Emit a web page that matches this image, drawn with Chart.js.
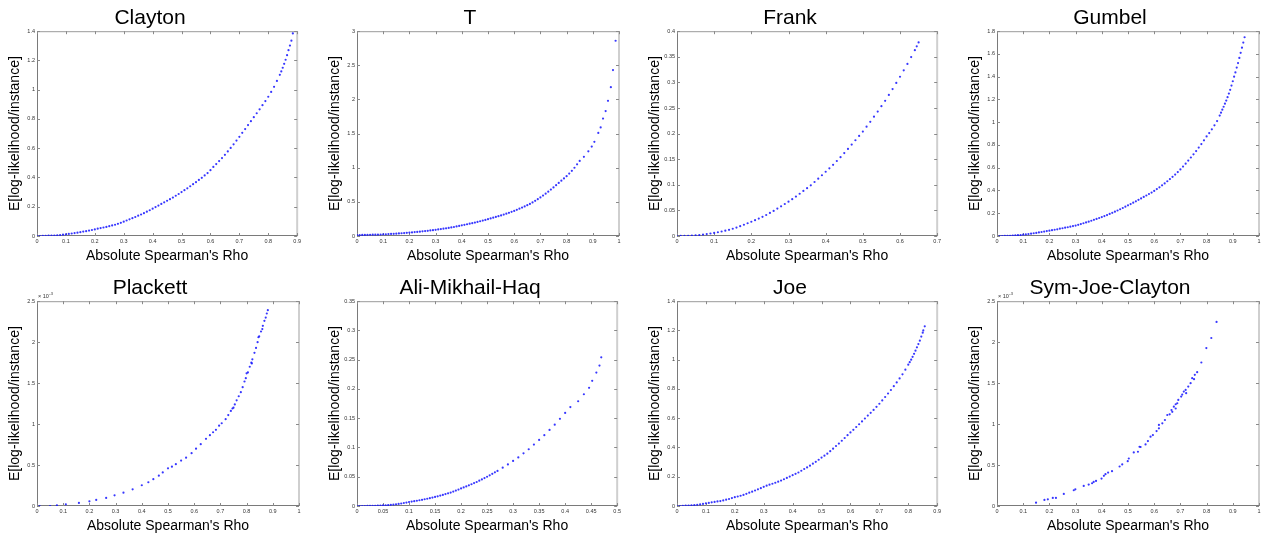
<!DOCTYPE html>
<html>
<head>
<meta charset="UTF-8"/>
<title>Copula fits</title>
<script src="https://cdn.jsdelivr.net/npm/chart.js@4.4.3/dist/chart.umd.min.js"></script>
<style>
  *{box-sizing:border-box;margin:0;padding:0}
  body{background:#fff;width:1263px;height:537px;overflow:hidden;position:relative}
  .panel{position:absolute;width:303px;height:267px}
</style>
</head>
<body>

<script>
// ─── Data ─────────────────────────────────────────────────────────────────────
const claytonX = [0.00,0.01,0.02,0.03,0.04,0.05,0.06,0.07,0.08,0.09,0.10,0.11,0.12,0.13,0.14,0.15,0.16,0.17,0.18,0.19,
  0.20,0.21,0.22,0.23,0.24,0.25,0.26,0.27,0.28,0.29,0.30,0.31,0.32,0.33,0.34,0.35,0.36,0.37,0.38,0.39,
  0.40,0.41,0.42,0.43,0.44,0.45,0.46,0.47,0.48,0.49,0.50,0.51,0.52,0.53,0.54,0.55,0.56,0.57,0.58,0.59,
  0.60,0.61,0.62,0.63,0.64,0.65,0.66,0.67,0.68,0.69,0.70,0.71,0.72,0.73,0.74,0.75,0.76,0.77,0.78,0.79,
  0.80,0.81,0.82,0.83,0.84,0.845,0.85,0.855,0.86,0.865,0.87,0.875,0.88,0.885];
const claytonY = [0.000,0.000,0.001,0.001,0.002,0.002,0.003,0.005,0.007,0.009,0.011,0.014,0.017,0.020,0.023,0.026,0.030,0.033,0.037,0.041,
  0.045,0.050,0.054,0.058,0.062,0.067,0.072,0.077,0.083,0.090,0.098,0.106,0.114,0.122,0.130,0.139,0.147,0.156,0.166,0.176,
  0.187,0.198,0.208,0.219,0.230,0.241,0.252,0.263,0.275,0.287,0.300,0.313,0.326,0.340,0.354,0.368,0.383,0.398,0.414,0.430,
  0.450,0.472,0.492,0.512,0.533,0.555,0.578,0.602,0.627,0.652,0.678,0.705,0.731,0.758,0.785,0.812,0.839,0.866,0.894,0.922,
  0.952,0.985,1.020,1.060,1.102,1.125,1.150,1.177,1.205,1.236,1.270,1.302,1.335,1.385];

const tX = [0.00,0.01,0.02,0.03,0.04,0.05,0.06,0.07,0.08,0.09,0.10,0.11,0.12,0.13,0.14,0.15,0.16,0.17,0.18,0.19,
  0.20,0.21,0.22,0.23,0.24,0.25,0.26,0.27,0.28,0.29,0.30,0.31,0.32,0.33,0.34,0.35,0.36,0.37,0.38,0.39,
  0.40,0.41,0.42,0.43,0.44,0.45,0.46,0.47,0.48,0.49,0.50,0.51,0.52,0.53,0.54,0.55,0.56,0.57,0.58,0.59,
  0.60,0.61,0.62,0.63,0.64,0.65,0.66,0.67,0.68,0.69,0.70,0.71,0.72,0.73,0.74,0.75,0.76,0.77,0.78,0.79,
  0.80,0.81,0.82,0.83,0.84,0.85,0.866,0.883,0.896,0.906,0.921,0.930,0.939,0.949,0.958,0.969,0.977,0.987];
const tY = [0.015,0.015,0.016,0.016,0.017,0.018,0.019,0.020,0.021,0.022,0.024,0.026,0.028,0.030,0.032,0.034,0.037,0.040,0.043,0.046,
  0.050,0.053,0.057,0.060,0.064,0.068,0.072,0.076,0.081,0.086,0.091,0.096,0.101,0.107,0.113,0.119,0.125,0.132,0.140,0.148,
  0.156,0.164,0.172,0.180,0.188,0.197,0.206,0.216,0.226,0.236,0.247,0.257,0.268,0.279,0.290,0.302,0.314,0.327,0.340,0.354,
  0.368,0.384,0.400,0.416,0.433,0.451,0.470,0.492,0.515,0.540,0.565,0.592,0.620,0.650,0.680,0.712,0.745,0.777,0.810,0.843,
  0.877,0.915,0.955,1.000,1.050,1.100,1.160,1.240,1.310,1.380,1.510,1.590,1.720,1.830,1.980,2.180,2.430,2.860];

const frankX = [0.00,0.01,0.02,0.03,0.04,0.05,0.06,0.07,0.08,0.09,0.10,0.11,0.12,0.13,0.14,0.15,0.16,0.17,0.18,0.19,
  0.20,0.21,0.22,0.23,0.24,0.25,0.26,0.27,0.28,0.29,0.30,0.31,0.32,0.33,0.34,0.35,0.36,0.37,0.38,0.39,
  0.40,0.41,0.42,0.43,0.44,0.45,0.46,0.47,0.48,0.49,0.50,0.51,0.52,0.53,0.54,0.55,0.56,0.57,0.58,0.59,
  0.60,0.61,0.62,0.63,0.64,0.645,0.65];
const frankY = [0.0000,0.0001,0.0002,0.0005,0.0009,0.0014,0.0020,0.0028,0.0038,0.0049,0.0060,0.0073,0.0088,0.0104,0.0120,0.0142,0.0165,0.0192,0.0220,0.0249,
  0.0278,0.0309,0.0340,0.0375,0.0410,0.0450,0.0490,0.0535,0.0580,0.0625,0.0670,0.0720,0.0770,0.0825,0.0880,0.0935,0.0990,0.1055,0.1120,0.1187,
  0.1255,0.1322,0.1390,0.1465,0.1540,0.1620,0.1700,0.1785,0.1870,0.1955,0.2040,0.2135,0.2230,0.2330,0.2430,0.2535,0.2640,0.2755,0.2870,0.2990,
  0.3110,0.3235,0.3360,0.3495,0.3630,0.3705,0.3780];

const gumbelX = [0.01,0.02,0.03,0.04,0.05,0.06,0.07,0.08,0.09,0.10,0.11,0.12,0.13,0.14,0.15,0.16,0.17,0.18,0.19,
  0.20,0.21,0.22,0.23,0.24,0.25,0.26,0.27,0.28,0.29,0.30,0.31,0.32,0.33,0.34,0.35,0.36,0.37,0.38,0.39,
  0.40,0.41,0.42,0.43,0.44,0.45,0.46,0.47,0.48,0.49,0.50,0.51,0.52,0.53,0.54,0.55,0.56,0.57,0.58,0.59,
  0.60,0.61,0.62,0.63,0.64,0.65,0.66,0.67,0.68,0.69,0.70,0.71,0.72,0.73,0.74,0.75,0.76,0.77,0.78,0.79,
  0.80,0.81,0.82,0.83,0.84,0.85,0.855,0.86,0.865,0.87,0.875,0.88,0.885,0.89,0.895,0.90,0.905,0.91,0.915,0.92,0.925,0.93,0.935,0.94,0.945];
const gumbelY = [0.000,0.000,0.001,0.001,0.002,0.003,0.005,0.007,0.009,0.012,0.014,0.017,0.020,0.024,0.027,0.031,0.035,0.039,0.043,
  0.047,0.051,0.055,0.059,0.064,0.068,0.073,0.077,0.082,0.087,0.092,0.098,0.105,0.112,0.119,0.126,0.134,0.142,0.150,0.158,
  0.166,0.175,0.184,0.194,0.204,0.214,0.224,0.235,0.246,0.258,0.270,0.281,0.293,0.305,0.318,0.330,0.343,0.356,0.369,0.382,
  0.396,0.412,0.428,0.445,0.462,0.481,0.500,0.520,0.540,0.562,0.585,0.610,0.636,0.663,0.690,0.718,0.746,0.777,0.808,0.841,
  0.875,0.905,0.938,0.973,1.010,1.058,1.084,1.110,1.136,1.163,1.190,1.220,1.252,1.285,1.322,1.360,1.400,1.438,1.480,1.520,1.565,1.610,1.655,1.700,1.747];

// Plackett and Sym-Joe-Clayton: values in units of 10^-3
const plackettX = [0.01,0.05,0.076,0.11,0.16,0.20,0.226,0.264,0.296,0.33,0.365,0.40,0.425,0.444,0.465,0.48,0.50,0.515,0.53,0.55,
  0.569,0.59,0.607,0.625,0.645,0.66,0.672,0.683,0.695,0.705,0.72,0.73,0.74,0.746,0.75,0.755,0.762,0.77,0.778,0.785,
  0.792,0.797,0.80,0.805,0.812,0.818,0.82,0.822,0.83,0.836,0.842,0.845,0.848,0.855,0.86,0.862,0.868,0.873,0.877,0.881];
const plackettY = [0.000,0.000,0.008,0.020,0.037,0.057,0.074,0.098,0.130,0.163,0.204,0.253,0.290,0.327,0.370,0.410,0.460,0.480,0.510,0.555,
  0.590,0.645,0.700,0.755,0.820,0.865,0.900,0.930,0.980,1.010,1.060,1.110,1.160,1.190,1.200,1.240,1.290,1.340,1.390,1.450,
  1.520,1.560,1.620,1.630,1.700,1.750,1.740,1.790,1.870,1.930,2.000,2.060,2.070,2.130,2.160,2.200,2.260,2.300,2.350,2.390];

const amhX = [0.000,0.005,0.010,0.015,0.020,0.025,0.030,0.035,0.040,0.045,0.050,0.055,0.060,0.065,0.070,0.075,0.080,0.085,0.090,0.095,
  0.100,0.105,0.110,0.115,0.120,0.125,0.130,0.135,0.140,0.145,0.150,0.155,0.160,0.165,0.170,0.175,0.180,0.185,0.190,0.195,
  0.200,0.205,0.210,0.215,0.220,0.225,0.230,0.235,0.240,0.245,0.250,0.255,0.260,0.265,0.270,
  0.28,0.29,0.30,0.31,0.32,0.33,0.34,0.35,0.36,0.37,0.38,0.39,0.40,0.41,0.425,0.436,0.446,0.452,0.46,0.466,0.4694];
const amhY = [0.0000,0.0000,0.0000,0.0000,0.0001,0.0002,0.0003,0.0004,0.0006,0.0008,0.0010,0.0013,0.0016,0.0020,0.0025,0.0030,0.0036,0.0043,0.0051,0.0059,
  0.0068,0.0075,0.0083,0.0090,0.0098,0.0106,0.0115,0.0124,0.0134,0.0144,0.0155,0.0166,0.0178,0.0190,0.0203,0.0216,0.0230,0.0246,0.0263,0.0281,
  0.0300,0.0317,0.0335,0.0353,0.0372,0.0391,0.0410,0.0432,0.0455,0.0477,0.0500,0.0525,0.0550,0.0575,0.0600,
  0.0655,0.0710,0.0770,0.0830,0.0900,0.0970,0.1050,0.1130,0.1210,0.1300,0.1390,0.1490,0.1590,0.1690,0.1790,0.1910,0.2020,0.2140,0.2280,0.2400,0.2540];

const joeX = [0.00,0.01,0.02,0.03,0.04,0.05,0.06,0.07,0.08,0.09,0.10,0.11,0.12,0.13,0.14,0.15,0.16,0.17,0.18,0.19,
  0.20,0.21,0.22,0.23,0.24,0.25,0.26,0.27,0.28,0.29,0.30,0.31,0.32,0.33,0.34,0.35,0.36,0.37,0.38,0.39,
  0.40,0.41,0.42,0.43,0.44,0.45,0.46,0.47,0.48,0.49,0.50,0.51,0.52,0.53,0.54,0.55,0.56,0.57,0.58,0.59,
  0.60,0.61,0.62,0.63,0.64,0.65,0.66,0.67,0.68,0.69,0.70,0.71,0.72,0.73,0.74,0.75,0.76,0.77,0.78,0.79,
  0.80,0.805,0.81,0.815,0.82,0.825,0.83,0.835,0.84,0.845,0.85,0.852,0.857];
const joeY = [0.000,0.000,0.001,0.002,0.003,0.005,0.006,0.008,0.011,0.014,0.018,0.021,0.025,0.028,0.031,0.034,0.038,0.043,0.048,0.054,
  0.060,0.065,0.070,0.076,0.083,0.091,0.098,0.106,0.114,0.122,0.131,0.139,0.146,0.152,0.159,0.166,0.174,0.183,0.192,0.201,
  0.211,0.220,0.229,0.241,0.253,0.264,0.276,0.289,0.302,0.316,0.331,0.344,0.358,0.375,0.392,0.410,0.427,0.446,0.465,0.484,
  0.503,0.521,0.540,0.559,0.578,0.598,0.618,0.637,0.657,0.678,0.699,0.722,0.745,0.769,0.793,0.819,0.845,0.872,0.900,0.932,
  0.966,0.983,1.000,1.020,1.040,1.062,1.085,1.107,1.130,1.158,1.185,1.200,1.228];

const sjcX = [0.149,0.181,0.194,0.213,0.225,0.255,0.293,0.299,0.331,0.350,0.363,0.369,0.378,0.399,0.408,0.414,0.424,0.439,0.468,0.478,
  0.499,0.503,0.522,0.538,0.544,0.548,0.567,0.576,0.586,0.595,0.609,0.618,0.618,0.631,0.641,0.650,0.659,0.666,0.669,0.675,
  0.682,0.682,0.688,0.692,0.703,0.707,0.713,0.720,0.722,0.730,0.739,0.745,0.752,0.755,0.764,0.780,0.799,0.818,0.838];
const sjcY = [0.040,0.074,0.082,0.098,0.098,0.147,0.192,0.204,0.245,0.261,0.278,0.294,0.306,0.335,0.368,0.388,0.408,0.425,0.482,0.507,
  0.547,0.580,0.654,0.662,0.723,0.720,0.752,0.792,0.846,0.866,0.915,0.948,0.990,1.009,1.050,1.111,1.119,1.172,1.150,1.213,
  1.242,1.190,1.254,1.295,1.336,1.360,1.397,1.417,1.377,1.458,1.499,1.560,1.548,1.601,1.634,1.752,1.928,2.051,2.247];

// ─── Panel layout / axis settings ─────────────────────────────────────────────
const titles  = ['Clayton','T','Frank','Gumbel','Plackett','Ali-Mikhail-Haq','Joe','Sym-Joe-Clayton'];
const seriesX = [claytonX, tX, frankX, gumbelX, plackettX, amhX, joeX, sjcX];
const seriesY = [claytonY, tY, frankY, gumbelY, plackettY, amhY, joeY, sjcY];
const xMaxes  = [0.9, 1, 0.7, 1, 1, 0.5, 0.9, 1];
const xSteps  = [0.1, 0.1, 0.1, 0.1, 0.1, 0.05, 0.1, 0.1];
const yMaxes  = [1.4, 3, 0.4, 1.8, 2.5, 0.35, 1.4, 2.5];
const ySteps  = [0.2, 0.5, 0.05, 0.2, 0.5, 0.05, 0.2, 0.5];
const yExpo   = [null, null, null, null, '-3', null, null, '-3'];

const FONT = "'Liberation Sans', Arial, Helvetica, sans-serif";
const fmt = v => String(+v.toFixed(3));

// frame + inward tick marks, matlab style
const framePlugin = {
  id: 'frame',
  beforeDatasetsDraw(chart) {
    const { ctx, chartArea: a, scales: { x, y } } = chart;
    ctx.save();
    ctx.lineWidth = 1;
    ctx.strokeStyle = '#9a9a9a';
    ctx.beginPath();
    ctx.moveTo(a.left + 0.5, a.top + 0.5); ctx.lineTo(a.right - 0.5, a.top + 0.5);
    ctx.stroke();
    ctx.strokeStyle = '#cfcfcf'; ctx.lineWidth = 2;
    ctx.beginPath();
    ctx.moveTo(a.right, a.top); ctx.lineTo(a.right, a.bottom);
    ctx.stroke();
    ctx.strokeStyle = '#7a7a7a'; ctx.lineWidth = 1;
    ctx.beginPath();
    ctx.moveTo(a.left + 0.5, a.top); ctx.lineTo(a.left + 0.5, a.bottom - 0.5);
    ctx.lineTo(a.right, a.bottom - 0.5);
    ctx.stroke();
    ctx.strokeStyle = '#8a8a8a';
    ctx.beginPath();
    x.ticks.forEach(t => {
      const px = Math.round(x.getPixelForValue(t.value)) + 0.5;
      ctx.moveTo(px, a.bottom); ctx.lineTo(px, a.bottom - 3);
      ctx.moveTo(px, a.top);    ctx.lineTo(px, a.top + 3);
    });
    y.ticks.forEach(t => {
      const py = Math.round(y.getPixelForValue(t.value)) + 0.5;
      ctx.moveTo(a.left, py);  ctx.lineTo(a.left + 3, py);
      ctx.moveTo(a.right, py); ctx.lineTo(a.right - 3, py);
    });
    ctx.stroke();
    ctx.restore();
  }
};

// "x 10^n" exponent label above the y axis
const expoPlugin = {
  id: 'expo',
  afterDraw(chart, args, opts) {
    if (!opts.text) return;
    const { ctx, chartArea: a } = chart;
    ctx.save();
    ctx.fillStyle = '#333';
    ctx.textBaseline = 'alphabetic';
    ctx.font = '5.5px ' + FONT;
    ctx.fillText('\u00d7 10', a.left + 1, a.top - 3);
    const w = ctx.measureText('\u00d7 10').width;
    ctx.font = '4px ' + FONT;
    ctx.fillText(opts.text, a.left + 1.5 + w, a.top - 6);
    ctx.restore();
  }
};

function makePanel(i) {
  const col = i % 4, row = Math.floor(i / 4);
  const div = document.createElement('div');
  div.className = 'panel';
  div.style.left = (col * 320) + 'px';
  div.style.top  = (row * 270) + 'px';
  const cv = document.createElement('canvas');
  cv.width = 303; cv.height = 267;
  div.appendChild(cv);
  document.body.appendChild(div);

  const pts = seriesX[i].map((x, k) => ({ x, y: seriesY[i][k] }));

  new Chart(cv, {
    type: 'scatter',
    data: { datasets: [{
      data: pts,
      pointRadius: 1.1,
      pointBorderWidth: 0,
      pointBackgroundColor: 'rgba(20,20,255,0.85)',
    }]},
    options: {
      responsive: false,
      animation: false,
      layout: { padding: { left: 0, right: 3, top: 0, bottom: 0 } },
      plugins: {
        legend: { display: false },
        tooltip: { enabled: false },
        title: {
          display: true, text: titles[i], color: '#000',
          font: { family: FONT, size: 21, weight: 'normal' },
          padding: { top: 6, bottom: 0 },
        },
        expo: { text: yExpo[i] },
      },
      scales: {
        x: {
          type: 'linear', min: 0, max: xMaxes[i],
          grid: { display: false, drawTicks: false },
          border: { display: false },
          ticks: { stepSize: xSteps[i], callback: fmt, color: '#333', padding: 2,
                   maxRotation: 0, autoSkip: false, font: { family: FONT, size: 5.5 } },
          title: { display: true, text: "Absolute Spearman's Rho", color: '#000',
                   font: { family: FONT, size: 14 }, padding: { top: 0, bottom: 2 } },
          afterFit: s => { s.height = 31; },
        },
        y: {
          type: 'linear', min: 0, max: yMaxes[i],
          grid: { display: false, drawTicks: false },
          border: { display: false },
          ticks: { stepSize: ySteps[i], callback: fmt, color: '#333', padding: 2,
                   autoSkip: false, font: { family: FONT, size: 5.5 } },
          title: { display: true, text: 'E[log-likelihood/instance]', color: '#000',
                   font: { family: FONT, size: 14 }, padding: { top: 7, bottom: 0 } },
          afterFit: s => { s.width = 37; },
        },
      },
    },
    plugins: [framePlugin, expoPlugin],
  });
}

for (let i = 0; i < titles.length; i++) makePanel(i);
</script>
</body>
</html>
